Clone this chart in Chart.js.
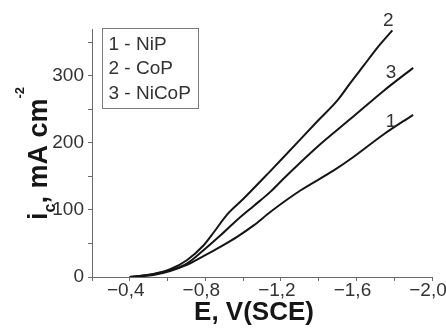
<!DOCTYPE html>
<html>
<head>
<meta charset="utf-8">
<script src="https://cdn.jsdelivr.net/npm/chart.js@4.4.1/dist/chart.umd.min.js"></script>
<style>
  html, body { margin: 0; padding: 0; background: #fff; }
  #wrap { position: relative; width: 446px; height: 329px; }
</style>
</head>
<body>
<div id="wrap"><canvas id="tafel"></canvas></div>
<script>
// potential E, V(SCE) and cathodic current density, mA cm-2
const E_NiP = [-0.40, -0.525, -0.614, -0.702, -0.79, -0.879, -0.968, -1.056, -1.144, -1.303, -1.48, -1.569, -1.745, -1.90];
const I_NiP = [0, 3, 9, 18, 31, 45, 60, 77, 97, 129, 159, 176, 213, 242];

const E_CoP = [-0.40, -0.525, -0.614, -0.702, -0.79, -0.843, -0.915, -1.003, -1.144, -1.215, -1.392, -1.498, -1.569, -1.64, -1.71, -1.79];
const I_CoP = [0, 4.5, 11.5, 25, 47, 66, 93, 117, 158, 179, 232, 263, 290, 316, 342, 368];

const E_NiCoP = [-0.40, -0.525, -0.614, -0.702, -0.79, -0.879, -0.968, -1.056, -1.144, -1.215, -1.392, -1.569, -1.745, -1.90];
const I_NiCoP = [0, 4, 10, 20, 40, 62, 85, 106, 127, 147, 194, 236, 278, 312];

const curveIds = ['1', '2', '3'];
const legendLabels = ['1 - NiP', '2 - CoP', '3 - NiCoP'];
const xTitle = 'E, V(SCE)';

const FONT = '"Liberation Sans", Arial, sans-serif';

const toPoints = (xs, ys) => xs.map((x, k) => ({ x: x, y: ys[k] }));

const series = [
  toPoints(E_NiP, I_NiP),
  toPoints(E_CoP, I_CoP),
  toPoints(E_NiCoP, I_NiCoP)
];

const lineStyle = {
  borderColor: '#151515',
  borderWidth: 2,
  pointRadius: 0,
  fill: false,
  cubicInterpolationMode: 'monotone'
};

// legend box, curve numbers and axis titles (sub/superscripts) are drawn here
const decorations = {
  id: 'decorations',
  afterDraw(chart) {
    const { ctx, chartArea } = chart;
    ctx.save();

    // legend box
    const bx = chartArea.left + 10.5, by = chartArea.top - 0.5;
    ctx.strokeStyle = '#7a7a7a';
    ctx.lineWidth = 1;
    ctx.strokeRect(bx, by, 96, 80);
    ctx.fillStyle = '#333';
    ctx.font = '19px ' + FONT;
    ctx.textAlign = 'left';
    ctx.textBaseline = 'middle';
    legendLabels.forEach((txt, k) => ctx.fillText(txt, bx + 6, by + 16 + k * 24.5));

    // curve numbers next to the end of each curve
    const offsets = [[-22, 7], [-4, -10], [-22, 5]];
    ctx.textAlign = 'center';
    chart.data.datasets.forEach((ds, k) => {
      const meta = chart.getDatasetMeta(k);
      const last = meta.data[meta.data.length - 1];
      ctx.fillText(curveIds[k], last.x + offsets[k][0], last.y + offsets[k][1]);
    });

    // x title
    ctx.fillStyle = '#161616';
    ctx.font = 'bold 26px ' + FONT;
    ctx.fillText(xTitle, (chartArea.left + chartArea.right) / 2 - 8, 313);

    // y title: i_c, mA cm^-2
    ctx.translate(47, 220);
    ctx.rotate(-Math.PI / 2);
    ctx.textAlign = 'left';
    ctx.textBaseline = 'alphabetic';
    const parts = [
      { t: 'i', f: 'bold 27px ', s: 0 },
      { t: 'c', f: 'bold 16px ', s: 8 },
      { t: ', mA cm', f: 'bold 27px ', s: 0 },
      { t: '-2', f: 'bold 13px ', s: -23 }
    ];
    let pos = 0;
    parts.forEach(p => {
      ctx.font = p.f + FONT;
      ctx.fillText(p.t, pos, p.s);
      pos += ctx.measureText(p.t).width;
    });
    ctx.restore();
  }
};

const fixWidth = w => scale => { scale.width = w; scale.paddingTop = 0; scale.paddingBottom = 0; };
const fixHeight = h => scale => { scale.height = h; scale.paddingLeft = 0; scale.paddingRight = 0; };

const ctx = document.getElementById('tafel').getContext('2d');
new Chart(ctx, {
  type: 'line',
  data: {
    datasets: series.map((pts, k) => Object.assign({ label: legendLabels[k], data: pts }, lineStyle))
  },
  options: {
    responsive: true,
    maintainAspectRatio: false,
    animation: false,
    events: [],
    layout: { padding: { top: 29, right: 14, left: 0, bottom: 0 } },
    plugins: { legend: { display: false }, tooltip: { enabled: false } },
    scales: {
      x: {
        type: 'linear',
        reverse: true,
        min: -2.0,
        max: -0.2,
        afterFit: fixHeight(52),
        border: { display: true, color: '#6a6a6a', width: 1 },
        grid: { display: true, drawOnChartArea: false, drawTicks: true, tickLength: 4, tickColor: '#6a6a6a' },
        ticks: {
          stepSize: 0.2,
          autoSkip: false,
          maxRotation: 0,
          labelOffset: -4,
          padding: -2,
          color: '#333',
          font: { size: 19, family: FONT },
          callback: v => (Math.round(v * 10) % 4 === 0) ? v.toFixed(1).replace('.', ',').replace('-', '\u2212') : ''
        }
      },
      y: {
        min: 0,
        max: 370,
        afterFit: fixWidth(92),
        border: { display: true, color: '#6a6a6a', width: 1 },
        grid: { display: true, drawOnChartArea: false, drawTicks: true, tickLength: 4, tickColor: '#6a6a6a' },
        ticks: {
          stepSize: 50,
          includeBounds: false,
          autoSkip: false,
          padding: 4,
          color: '#333',
          font: { size: 19, family: FONT },
          callback: v => (v % 100 === 0) ? String(v) : ''
        }
      }
    }
  },
  plugins: [decorations]
});
</script>
</body>
</html>
